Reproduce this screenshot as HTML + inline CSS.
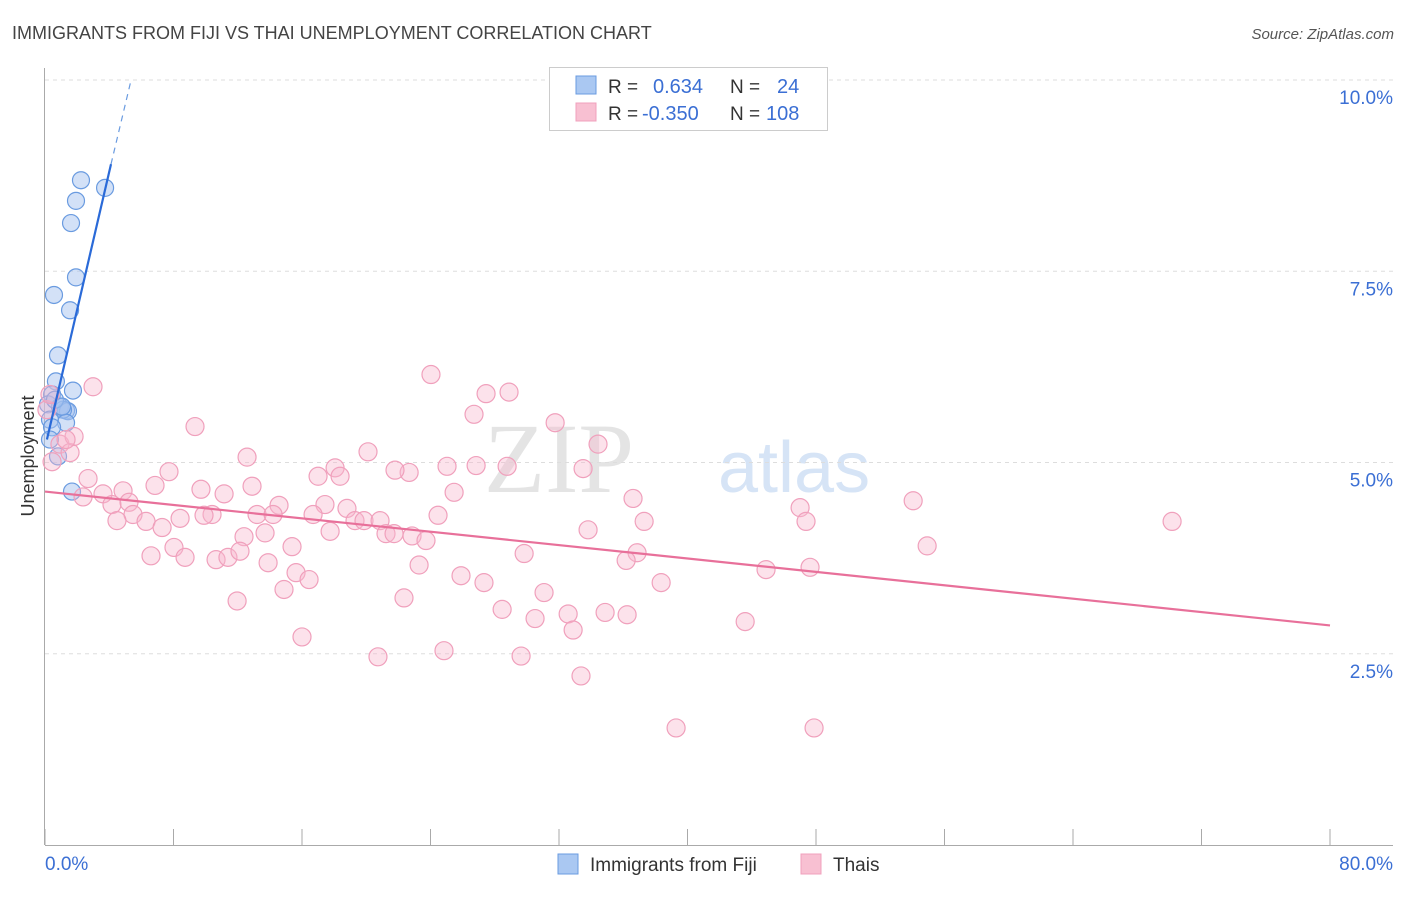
<!DOCTYPE html>
<html><head><meta charset="utf-8"><style>
body{margin:0;background:#fff;font-family:"Liberation Sans",sans-serif;}
</style></head><body>
<svg id="chart" width="1406" height="892" xmlns="http://www.w3.org/2000/svg" font-family="Liberation Sans, sans-serif">
<text x="12" y="39" font-size="18" fill="#444">IMMIGRANTS FROM FIJI VS THAI UNEMPLOYMENT CORRELATION CHART</text>
<text x="1394" y="39" font-size="15" fill="#555" font-style="italic" text-anchor="end">Source: ZipAtlas.com</text>
<text x="634" y="492" font-size="100" fill="#e4e4e4" font-family="Liberation Serif, serif" text-anchor="end">ZIP</text>
<text x="718" y="492" font-size="72" fill="#d6e4f6">atlas</text>
<text transform="translate(34,456) rotate(-90)" font-size="18" fill="#333" text-anchor="middle">Unemployment</text>
<g id="grid"></g><g id="axes"></g><g id="fijiPts"></g><g id="thaiPts"></g><g id="lines"></g>
<g>
<rect x="549.5" y="67.5" width="278" height="63" fill="#fff" stroke="#ccc"/>
<rect x="576" y="76" width="20" height="18" fill="#aac8f2" stroke="#6a9be0"/>
<rect x="576" y="103" width="20" height="18" fill="#f8c0d2" stroke="#f0a0bc"/>
<text x="608" y="93" font-size="19" fill="#333">R = </text><text x="653" y="93" font-size="20" fill="#3b6fd4">0.634</text>
<text x="730" y="93" font-size="19" fill="#333">N = </text><text x="777" y="93" font-size="20" fill="#3b6fd4">24</text>
<text x="608" y="120" font-size="19" fill="#333">R = </text><text x="642" y="120" font-size="20" fill="#3b6fd4">-0.350</text>
<text x="730" y="120" font-size="19" fill="#333">N = </text><text x="766" y="120" font-size="20" fill="#3b6fd4">108</text>
</g>
<g>
<rect x="558" y="854" width="20" height="20" fill="#aac8f2" stroke="#6a9be0"/>
<text x="590" y="871" font-size="19" fill="#333">Immigrants from Fiji</text>
<rect x="801" y="854" width="20" height="20" fill="#f8c0d2" stroke="#f0a0bc"/>
<text x="833" y="871" font-size="19" fill="#333">Thais</text>
</g>
</svg>
<script>
const yTicks=[2.5,5.0,7.5,10.0];
const yTickLabels=["2.5%","5.0%","7.5%","10.0%"];
const xTickCount=10;
const xMin=0,xMax=80,yMin=0,yMax=10;
const fijiX=[2.24,1.93,1.62,3.74,1.93,0.56,1.56,0.81,0.68,1.74,0.44,0.19,0.93,1.31,1.43,1.12,0.31,1.31,0.44,0.81,1.68,0.31,0.62,1.06];
const fijiY=[8.69,8.42,8.13,8.59,7.42,7.19,6.99,6.40,6.06,5.94,5.89,5.76,5.73,5.68,5.67,5.69,5.56,5.52,5.46,5.08,4.62,5.30,5.82,5.73];
const thaiX=[2.99,9.34,24.03,27.46,28.89,26.71,31.76,34.43,20.11,12.58,7.72,18.06,25.03,26.84,28.77,33.50,22.67,21.79,17.00,18.37,2.68,6.85,12.89,9.71,11.15,4.86,3.61,2.37,4.17,5.23,25.47,36.61,54.05,14.57,17.43,18.80,47.01,24.47,10.40,9.90,13.20,14.20,16.69,5.48,4.48,6.29,8.41,7.29,19.30,19.86,20.86,37.30,47.38,70.17,33.81,17.75,13.70,12.39,21.23,21.73,22.85,23.72,8.03,15.38,6.60,8.72,10.65,11.39,12.14,29.83,36.86,36.18,54.92,23.29,13.89,15.63,25.90,16.44,27.33,38.36,44.89,47.63,14.88,11.96,22.35,31.07,28.46,32.57,34.87,36.24,30.51,32.88,43.59,16.00,24.84,20.73,29.64,33.37,39.29,47.88,0.12,0.93,1.56,1.81,1.31,0.44,0.31];
const thaiY=[5.99,5.47,6.15,5.90,5.92,5.63,5.52,5.24,5.14,5.07,4.88,4.93,4.95,4.96,4.95,4.92,4.87,4.90,4.82,4.82,4.79,4.70,4.69,4.65,4.59,4.63,4.59,4.55,4.45,4.48,4.61,4.53,4.50,4.44,4.45,4.40,4.41,4.31,4.32,4.31,4.32,4.32,4.32,4.32,4.24,4.23,4.27,4.15,4.24,4.24,4.24,4.23,4.23,4.23,4.12,4.10,4.08,4.03,4.07,4.07,4.04,3.98,3.89,3.90,3.78,3.76,3.73,3.76,3.84,3.81,3.82,3.72,3.91,3.66,3.69,3.56,3.52,3.47,3.43,3.43,3.60,3.63,3.34,3.19,3.23,3.30,3.08,3.02,3.04,3.01,2.96,2.81,2.92,2.72,2.54,2.46,2.47,2.21,1.53,1.53,5.69,5.24,5.13,5.34,5.30,5.01,5.89];
const fijiTrend=[[0.12,5.30],[4.11,8.90]];
const fijiTrendExt=[[4.11,8.90],[5.36,10.0]];
const thaiTrend=[[0,4.62],[80,2.87]];

const X0=45,X1=1330,Y0=845,Y1=80;
const sx=v=>X0+(v-xMin)/(xMax-xMin)*(X1-X0);
const sy=v=>Y0-(v-yMin)/(yMax-yMin)*(Y0-Y1);
const NS="http://www.w3.org/2000/svg";
function mk(tag,parent,attrs){const e=document.createElementNS(NS,tag);for(const k in attrs)e.setAttribute(k,attrs[k]);document.getElementById(parent).appendChild(e);return e;}

yTicks.forEach((t,i)=>{
  const l=mk('line','grid',{x1:X0,x2:1393,y1:sy(t),y2:sy(t),stroke:'#ddd','stroke-dasharray':'4,4'});
  
  
  const tx=mk('text','grid',{x:1393,y:sy(t)+24,'font-size':19,fill:'#3b6fd4','text-anchor':'end'});
  tx.textContent=yTickLabels[i];
  
  
});
const ax=mk('line','axes',{x1:44.5,x2:44.5,y1:68,y2:Y0,stroke:'#aaa'});


const bx=mk('line','axes',{x1:X0,x2:1393,y1:Y0+0.5,y2:Y0+0.5,stroke:'#aaa'});


for(let i=0;i<=xTickCount;i++){
  const v=xMin+i*(xMax-xMin)/xTickCount;
  const t=mk('line','axes',{x1:sx(v),x2:sx(v),y1:Y0-16,y2:Y0,stroke:'#aaa'});
  
  
}
const xl0=mk('text','axes',{x:45,y:870,'font-size':19,fill:'#3b6fd4'});xl0.textContent=xMin.toFixed(1)+'%';


const xl1=mk('text','axes',{x:1393,y:870,'font-size':19,fill:'#3b6fd4','text-anchor':'end'});xl1.textContent=xMax.toFixed(1)+'%';



thaiX.forEach((x,i)=>{
  const c=mk('circle','thaiPts',{cx:sx(x),cy:sy(thaiY[i]),r:9,fill:'rgba(248,182,204,0.4)',stroke:'#f0a0bc','stroke-width':1.2});
  
  
});
fijiX.forEach((x,i)=>{
  const c=mk('circle','fijiPts',{cx:sx(x),cy:sy(fijiY[i]),r:8.5,fill:'rgba(168,196,240,0.5)',stroke:'#6a9be0','stroke-width':1.2});
  
  
});
const tl=mk('line','lines',{x1:sx(thaiTrend[0][0]),y1:sy(thaiTrend[0][1]),x2:sx(thaiTrend[1][0]),y2:sy(thaiTrend[1][1]),stroke:'#e8709a','stroke-width':2.2});


const fl=mk('line','lines',{x1:sx(fijiTrend[0][0]),y1:sy(fijiTrend[0][1]),x2:sx(fijiTrend[1][0]),y2:sy(fijiTrend[1][1]),stroke:'#2a6ad8','stroke-width':2.2});


const fe=mk('line','lines',{x1:sx(fijiTrendExt[0][0]),y1:sy(fijiTrendExt[0][1]),x2:sx(fijiTrendExt[1][0]),y2:sy(fijiTrendExt[1][1]),stroke:'#6a9be0','stroke-width':1.2,'stroke-dasharray':'6,5'});


</script>
</body></html>
